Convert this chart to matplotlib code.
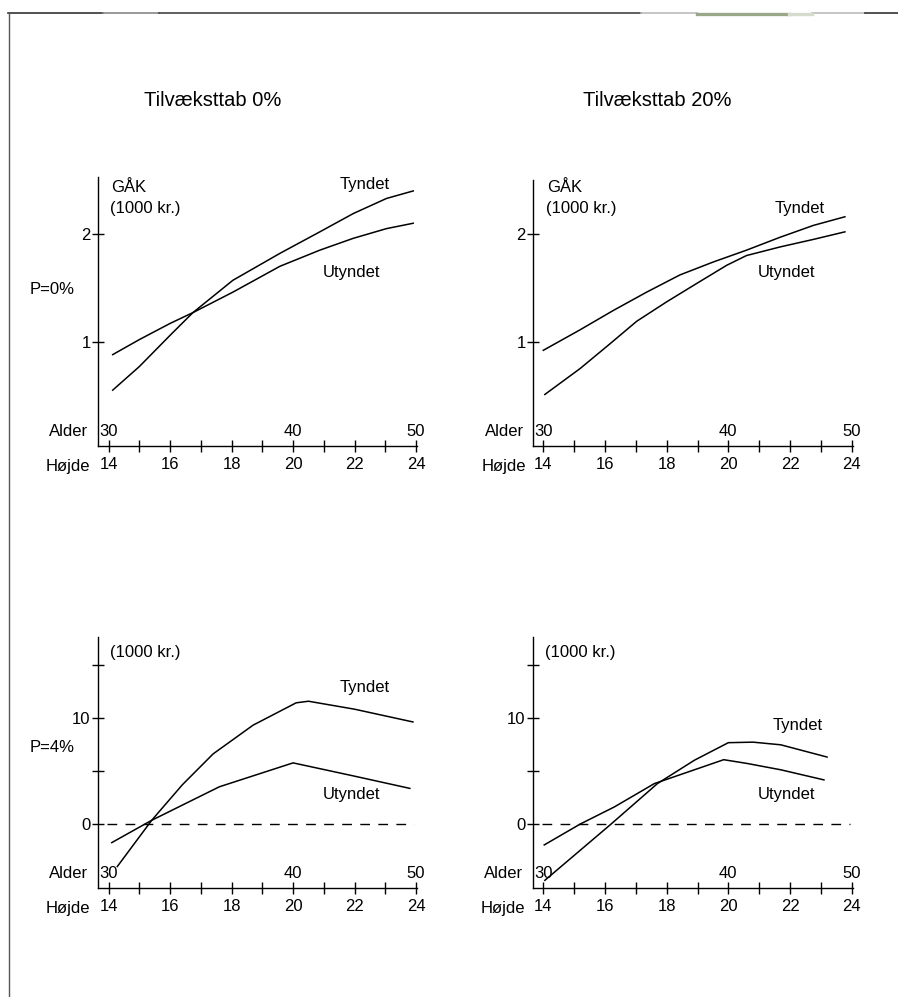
import matplotlib
matplotlib.use('Agg')
import matplotlib.pyplot as plt
from matplotlib.lines import Line2D

plt.rcParams['font.family'] = ['Liberation Sans', 'DejaVu Sans']
plt.rcParams['font.size'] = 12

W, H = 898, 997

# --- data ---
hojde_ticks = list(range(14, 25))
hojde_labels = [str(v) if v % 2 == 0 else '' for v in hojde_ticks]
alder_pos = [14, 20, 24]
alder_labels = ['30', '40', '50']

# Tilvæksttab 0%, P=0%
h_a = [14.13, 15.0, 16.0, 16.74, 18.04, 19.57, 20.87, 21.96, 23.04, 23.91]
gak_a_tyndet = [0.55, 0.77, 1.06, 1.27, 1.57, 1.82, 2.02, 2.19, 2.33, 2.40]
gak_a_utyndet = [0.88, 1.02, 1.17, 1.27, 1.46, 1.70, 1.85, 1.96, 2.05, 2.10]

# Tilvæksttab 20%, P=0%
h_b_tyndet = [14.0, 15.19, 16.27, 17.35, 18.43, 19.51, 20.59, 21.68, 22.76, 23.78]
gak_b_tyndet = [0.92, 1.11, 1.29, 1.46, 1.62, 1.74, 1.85, 1.97, 2.08, 2.16]
h_b_utyndet = [14.05, 15.19, 16.16, 17.03, 18.0, 18.97, 19.95, 20.59, 21.68, 22.76, 23.78]
gak_b_utyndet = [0.51, 0.75, 0.98, 1.19, 1.37, 1.54, 1.71, 1.80, 1.88, 1.95, 2.02]

# Tilvæksttab 0%, P=4%
h_c_tyndet = [14.28, 15.4, 16.4, 17.4, 18.7, 20.1, 20.5, 22.0, 23.9]
gak_c_tyndet = [-4.0, 0.35, 3.7, 6.6, 9.3, 11.4, 11.55, 10.8, 9.6]
h_c_utyndet = [14.1, 15.4, 17.6, 20.0, 22.0, 23.8]
gak_c_utyndet = [-1.75, 0.35, 3.5, 5.75, 4.5, 3.35]

# Tilvæksttab 20%, P=4%
h_d_tyndet = [14.05, 16.2, 17.7, 18.9, 20.0, 20.8, 21.7, 23.2]
gak_d_tyndet = [-5.3, 0.0, 3.8, 6.0, 7.65, 7.7, 7.45, 6.3]
h_d_utyndet = [14.03, 15.2, 16.3, 17.6, 18.7, 19.85, 20.6, 21.7, 23.1]
gak_d_utyndet = [-1.97, 0.0, 1.6, 3.8, 4.9, 6.05, 5.7, 5.1, 4.15]


def fig_text(fig, x, y, s, **kw):
    kw.setdefault('va', 'center')
    kw.setdefault('ha', 'left')
    fig.text(x / W, 1 - y / H, s, **kw)


def make_panel(fig, left, right, top, bottom, x14, x24, yref):
    """Place an axes box in pixel units and set limits so ticks land where wanted."""
    ax = fig.add_axes([left / W, 1 - bottom / H, (right - left) / W, (bottom - top) / H])
    xs = (x24 - x14) / 10.0
    ax.set_xlim(14 - (x14 - left) / xs, 24 + (right - x24) / xs)
    (v1, p1), (v2, p2) = yref
    ys = (p1 - p2) / (v2 - v1)
    ax.set_ylim(v1 - (bottom - p1) / ys, v1 + (p1 - top) / ys)
    for side in ('top', 'right'):
        ax.spines[side].set_visible(False)
    for side in ('left', 'bottom'):
        ax.spines[side].set_linewidth(1.0)
    ax.patch.set_alpha(0)
    ax.tick_params(direction='inout', length=8, width=1.0, labelsize=12, pad=1)
    ax.set_xticks(hojde_ticks)
    ax.set_xticklabels(hojde_labels)
    ax.tick_params(axis='x', pad=4)
    for pos, lab in zip(alder_pos, alder_labels):
        ax.annotate(lab, xy=(pos, 0), xycoords=('data', 'axes fraction'),
                    xytext=(0, 15), textcoords='offset pixels',
                    ha='center', va='center', fontsize=12)
    ax.annotate('Alder', xy=(0, 0), xycoords='axes fraction', xytext=(-9, 15),
                textcoords='offset pixels', ha='right', va='center', fontsize=12)
    ax.annotate('Højde', xy=(0, 0), xycoords='axes fraction', xytext=(-7, -20),
                textcoords='offset pixels', ha='right', va='center', fontsize=12)
    return ax


fig = plt.figure(figsize=(W / 100, H / 100), dpi=100)

line_kw = dict(color='black', lw=1.1)

# top row
ax_a = make_panel(fig, 97.5, 417, 177, 446, 108.7, 416, [(1, 341.7), (2, 234)])
ax_a.plot(h_a, gak_a_tyndet, **line_kw)
ax_a.plot(h_a, gak_a_utyndet, **line_kw)
ax_a.set_yticks([1, 2])

ax_b = make_panel(fig, 532.7, 852.5, 180, 446, 543.3, 851.7, [(1, 341.7), (2, 234)])
ax_b.plot(h_b_tyndet, gak_b_tyndet, **line_kw)
ax_b.plot(h_b_utyndet, gak_b_utyndet, **line_kw)
ax_b.set_yticks([1, 2])

# bottom row
ax_c = make_panel(fig, 97.5, 417, 637, 888, 108.7, 416, [(0, 824), (10, 717.7)])
ax_c.plot(h_c_tyndet, gak_c_tyndet, **line_kw)
ax_c.plot(h_c_utyndet, gak_c_utyndet, **line_kw)

ax_d = make_panel(fig, 532.5, 852.5, 637, 888, 543.3, 851.7, [(0, 824), (10, 717.7)])
ax_d.plot(h_d_tyndet, gak_d_tyndet, **line_kw)
ax_d.plot(h_d_utyndet, gak_d_utyndet, **line_kw)

for ax in (ax_c, ax_d):
    ax.set_yticks([0, 5, 10, 15])
    ax.set_yticklabels(['0', '', '10', ''])
    ax.hlines(0, ax.get_xlim()[0] + 0.3, 23.95, colors='black', lw=1.0,
              linestyles=(0, (7, 6)))

# titles and labels
fig_text(fig, 213, 100, 'Tilvæksttab 0%', fontsize=14.5, ha='center')
fig_text(fig, 657, 100, 'Tilvæksttab 20%', fontsize=14.5, ha='center')

fig_text(fig, 111, 187, 'GÅK')
fig_text(fig, 110, 208, '(1000 kr.)')
fig_text(fig, 340, 185, 'Tyndet')
fig_text(fig, 323, 273, 'Utyndet')
fig_text(fig, 30, 290, 'P=0%')

fig_text(fig, 547, 187, 'GÅK')
fig_text(fig, 546, 208, '(1000 kr.)')
fig_text(fig, 775, 209, 'Tyndet')
fig_text(fig, 758, 273, 'Utyndet')

fig_text(fig, 110, 652, '(1000 kr.)')
fig_text(fig, 340, 687, 'Tyndet')
fig_text(fig, 323, 795, 'Utyndet')
fig_text(fig, 30, 748, 'P=4%')

fig_text(fig, 545, 652, '(1000 kr.)')
fig_text(fig, 773, 725, 'Tyndet')
fig_text(fig, 758, 795, 'Utyndet')

# page frame (scanned border)
frame = [
    (8, 103, '#333333'), (103, 159, '#888888'), (159, 641, '#444444'),
    (641, 697, '#bbbbbb'), (812, 865, '#bbbbbb'), (865, 898, '#333333'),
]
for x0, x1, c in frame:
    fig.add_artist(Line2D([x0 / W, x1 / W], [1 - 13 / H, 1 - 13 / H], color=c, lw=1.2))
fig.add_artist(Line2D([697 / W, 789 / W], [1 - 14 / H] * 2, color='#9aa88a', lw=2.4))
fig.add_artist(Line2D([789 / W, 812 / W], [1 - 14 / H] * 2, color='#d6dccd', lw=2.4))
fig.add_artist(Line2D([8.5 / W] * 2, [1 - 13 / H, 0], color='#555555', lw=1.0))

fig.savefig('out.png', dpi=100)
